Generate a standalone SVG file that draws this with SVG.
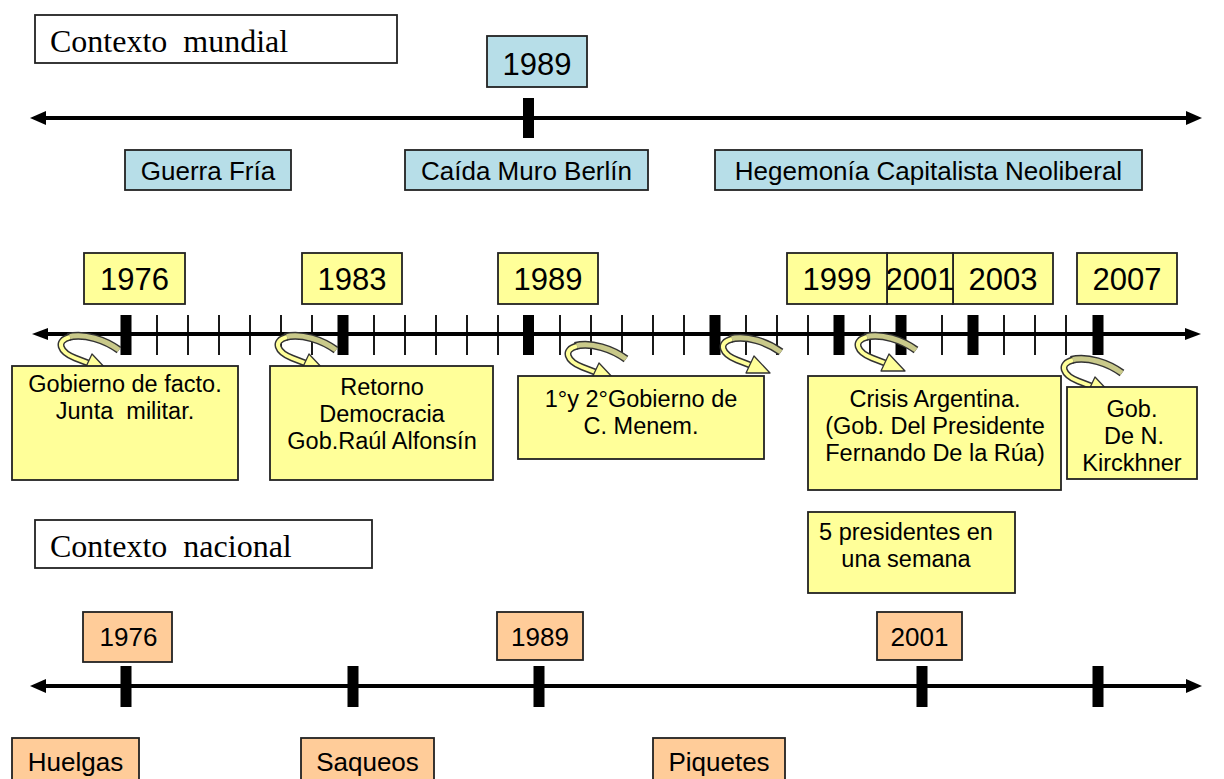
<svg xmlns="http://www.w3.org/2000/svg" xmlns:xlink="http://www.w3.org/1999/xlink" width="1224" height="779" viewBox="0 0 1224 779">
<style>
.bx{stroke:#222;stroke-width:1.8}
.teal{fill:#B7DEE8}
.yel{fill:#FFFF99}
.org{fill:#FFCC99}
.wht{fill:#fff}
.sans{font-family:"Liberation Sans",Arial,sans-serif;fill:#000}
.serif{font-family:"Liberation Serif","Times New Roman",serif;font-size:32px;fill:#000;white-space:pre}
.yr{font-size:31px;text-anchor:middle}
.lb{font-size:26px;text-anchor:middle}
.ds{font-size:23.5px;text-anchor:middle;white-space:pre}
.axis{stroke:#000;stroke-width:4}
.big{fill:#000}
.small{stroke:#000;stroke-width:1.8}
</style>
<defs>
<g id="curv">
<path d="M119,350 C105,340 85,333 68,337" fill="none" stroke="#333" stroke-width="8"/>
<path d="M119,350 C105,340 85,333 68,337" fill="none" stroke="#C9C98A" stroke-width="5"/>
<path d="M70,337 C55,341 60,352 75,358 L88,363" fill="none" stroke="#333" stroke-width="7"/>
<path d="M70,337 C55,341 60,352 75,358 L88,363" fill="none" stroke="#FFFF99" stroke-width="4"/>
<polygon points="108,371 92,354 84,371" fill="#FFFF99" stroke="#333" stroke-width="1.3" stroke-linejoin="round"/>
</g>
</defs>
<rect width="1224" height="779" fill="#fff"/>

<g id="connectors">
<line class="axis" x1="42" y1="118" x2="1190" y2="118"/>
<polygon points="30,118 46,111 46,125"/>
<polygon points="1202,118 1186,111 1186,125"/>
<rect class="big" x="523" y="98" width="11" height="40"/>
<line class="axis" x1="42" y1="334" x2="1190" y2="334"/>
<polygon points="32,334 48,328 48,340"/>
<polygon points="1201,334 1185,328 1185,340"/>
<g class="small">
<line x1="157" y1="315" x2="157" y2="355"/><line x1="188" y1="315" x2="188" y2="355"/>
<line x1="219" y1="315" x2="219" y2="355"/><line x1="250" y1="315" x2="250" y2="355"/>
<line x1="281" y1="315" x2="281" y2="355"/><line x1="312" y1="315" x2="312" y2="355"/>
<line x1="374" y1="315" x2="374" y2="355"/><line x1="405" y1="315" x2="405" y2="355"/>
<line x1="436" y1="315" x2="436" y2="355"/><line x1="467" y1="315" x2="467" y2="355"/>
<line x1="498" y1="315" x2="498" y2="355"/><line x1="560" y1="315" x2="560" y2="355"/>
<line x1="591" y1="315" x2="591" y2="355"/><line x1="622" y1="315" x2="622" y2="355"/>
<line x1="653" y1="315" x2="653" y2="355"/><line x1="684" y1="315" x2="684" y2="355"/>
<line x1="746" y1="315" x2="746" y2="355"/><line x1="777" y1="315" x2="777" y2="355"/>
<line x1="808" y1="315" x2="808" y2="355"/><line x1="870" y1="315" x2="870" y2="355"/>
<line x1="942" y1="315" x2="942" y2="355"/><line x1="1004" y1="315" x2="1004" y2="355"/>
<line x1="1035" y1="315" x2="1035" y2="355"/><line x1="1066" y1="315" x2="1066" y2="355"/>
</g>
<rect class="big" x="120.5" y="315" width="11" height="40"/>
<rect class="big" x="337.5" y="315" width="11" height="40"/>
<rect class="big" x="523" y="315" width="11" height="40"/>
<rect class="big" x="709.5" y="315" width="11" height="40"/>
<rect class="big" x="833.5" y="315" width="11" height="40"/>
<rect class="big" x="895.5" y="315" width="11" height="40"/>
<rect class="big" x="967.5" y="315" width="11" height="40"/>
<rect class="big" x="1092.5" y="315" width="11" height="40"/>
<use xlink:href="#curv" href="#curv"/>
<use xlink:href="#curv" href="#curv" transform="translate(217,0)"/>
<use xlink:href="#curv" href="#curv" transform="translate(507,9)"/>
<use xlink:href="#curv" href="#curv" transform="translate(662,2)"/>
<use xlink:href="#curv" href="#curv" transform="translate(797,0)"/>
<use xlink:href="#curv" href="#curv" transform="translate(1003,23)"/>
<line class="axis" x1="42" y1="686" x2="1190" y2="686"/>
<polygon points="30,686 46,679 46,693"/>
<polygon points="1202,686 1186,679 1186,693"/>
<rect class="big" x="120.5" y="666" width="11" height="41"/>
<rect class="big" x="347.5" y="666" width="11" height="41"/>
<rect class="big" x="533.5" y="666" width="11" height="41"/>
<rect class="big" x="916.5" y="666" width="11" height="41"/>
<rect class="big" x="1092.5" y="666" width="11" height="41"/>
</g>

<g id="ctx-mundial"><rect class="bx wht" x="35" y="15" width="362" height="48"/><text class="serif" x="50" y="52" xml:space="preserve">Contexto  mundial</text></g>
<g id="top-1989"><rect class="bx teal" x="487" y="36" width="100" height="51"/><text class="sans yr" x="537" y="75">1989</text></g>
<g id="guerra-fria"><rect class="bx teal" x="125" y="150" width="166" height="40"/><text class="sans lb" x="208" y="180">Guerra Fría</text></g>
<g id="caida-muro"><rect class="bx teal" x="405" y="150" width="243" height="40"/><text class="sans lb" x="526.5" y="180">Caída Muro Berlín</text></g>
<g id="hegemonia"><rect class="bx teal" x="715" y="150" width="427" height="40"/><text class="sans lb" x="928.5" y="180">Hegemonía Capitalista Neoliberal</text></g>

<g id="y1976"><rect class="bx yel" x="84" y="253" width="101" height="51"/><text class="sans yr" x="134.5" y="290">1976</text></g>
<g id="y1983"><rect class="bx yel" x="302" y="253" width="100" height="51"/><text class="sans yr" x="352" y="290">1983</text></g>
<g id="y1989"><rect class="bx yel" x="498" y="253" width="100" height="51"/><text class="sans yr" x="548" y="290">1989</text></g>
<g id="y2003"><rect class="bx yel" x="953" y="253" width="100" height="51"/><text class="sans yr" x="1003" y="290">2003</text></g>
<g id="y2001"><rect class="bx yel" x="887" y="253" width="66" height="51"/><text class="sans yr" x="920" y="290">2001</text></g>
<g id="y1999"><rect class="bx yel" x="787" y="253" width="100" height="51"/><text class="sans yr" x="837" y="290">1999</text></g>
<g id="y2007"><rect class="bx yel" x="1077" y="253" width="100" height="51"/><text class="sans yr" x="1127" y="290">2007</text></g>

<g id="d-facto"><rect class="bx yel" x="12" y="366" width="226" height="114"/><text class="sans ds" x="125" y="392">Gobierno de facto.</text><text class="sans ds" x="125" y="419" xml:space="preserve">Junta  militar.</text></g>
<g id="d-retorno"><rect class="bx yel" x="270" y="366" width="223" height="114"/><text class="sans ds" x="382" y="395">Retorno</text><text class="sans ds" x="382" y="422">Democracia</text><text class="sans ds" x="382" y="449">Gob.Raúl Alfonsín</text></g>
<g id="d-menem"><rect class="bx yel" x="518" y="376" width="246" height="83"/><text class="sans ds" x="641" y="407">1°y 2°Gobierno de</text><text class="sans ds" x="641" y="434">C. Menem.</text></g>
<g id="d-crisis"><rect class="bx yel" x="808" y="376" width="253" height="114"/><text class="sans ds" x="935" y="407">Crisis Argentina.</text><text class="sans ds" x="935" y="434">(Gob. Del Presidente</text><text class="sans ds" x="935" y="461">Fernando De la Rúa)</text></g>
<g id="d-kirchner"><rect class="bx yel" x="1067" y="387" width="130" height="92"/><text class="sans ds" x="1132" y="417">Gob.</text><text class="sans ds" x="1134" y="444">De N.</text><text class="sans ds" x="1132" y="471">Kirckhner</text></g>
<g id="d-5pres"><rect class="bx yel" x="808" y="512" width="207" height="81"/><text class="sans ds" x="906" y="540">5 presidentes en</text><text class="sans ds" x="906" y="567">una semana</text></g>

<g id="ctx-nacional"><rect class="bx wht" x="35" y="520" width="337" height="48"/><text class="serif" x="50" y="557" xml:space="preserve">Contexto  nacional</text></g>
<g id="n1976"><rect class="bx org" x="83" y="612" width="89" height="50"/><text class="sans lb" x="128.5" y="646">1976</text></g>
<g id="n1989"><rect class="bx org" x="497" y="612" width="86" height="48"/><text class="sans lb" x="540" y="646">1989</text></g>
<g id="n2001"><rect class="bx org" x="877" y="612" width="85" height="48"/><text class="sans lb" x="919.5" y="646">2001</text></g>
<g id="huelgas"><rect class="bx org" x="12" y="738" width="127" height="60"/><text class="sans lb" x="75.5" y="771">Huelgas</text></g>
<g id="saqueos"><rect class="bx org" x="301" y="738" width="133" height="60"/><text class="sans lb" x="367.5" y="771">Saqueos</text></g>
<g id="piquetes"><rect class="bx org" x="653" y="738" width="132" height="60"/><text class="sans lb" x="719" y="771">Piquetes</text></g>
</svg>
